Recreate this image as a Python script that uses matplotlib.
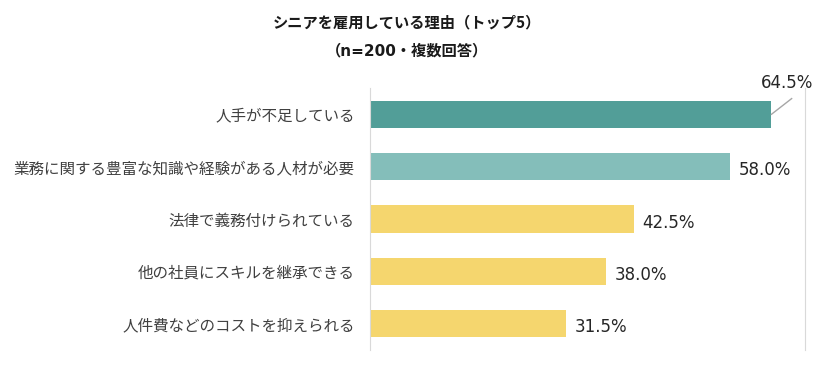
import matplotlib.pyplot as plt

plt.rcParams['font.family'] = ['Noto Sans CJK JP', 'DejaVu Sans']

reasons = ['人手が不足している',
           '業務に関する豊富な知識や経験がある人材が必要',
           '法律で義務付けられている',
           '他の社員にスキルを継承できる',
           '人件費などのコストを抑えられる']
pct = [64.5, 58.0, 42.5, 38.0, 31.5]
colors = ['#529E98', '#84BEBA', '#F5D66E', '#F5D66E', '#F5D66E']

fig = plt.figure(figsize=(8.33, 3.75), dpi=100)
ax = fig.add_axes([0.444, 0.067, 0.522, 0.698])

ypos = list(range(len(reasons)))
ax.barh(ypos, pct, height=0.52, color=colors)
ax.set_xlim(0, 70)
ax.set_ylim(len(reasons) - 0.5, -0.5)
ax.set_yticks(ypos)
ax.set_yticklabels(reasons, fontsize=11.2, color='#404040')
ax.tick_params(axis='y', length=0, pad=11)
ax.set_xticks([])

for s in ['top', 'bottom']:
    ax.spines[s].set_visible(False)
ax.spines['left'].set_color('#D9D9D9')
ax.spines['right'].set_color('#D9D9D9')

num_font = ['DejaVu Sans', 'Noto Sans CJK JP']
for i, v in enumerate(pct):
    txt = f'{v:.1f}%'
    if i == 0:
        # first label sits above the bar, with a leader line
        ax.plot([v + 0.15, v + 3.4], [i, i - 0.3], color='#A6A6A6', lw=1,
                clip_on=False)
        ax.text(v + 2.7, i - 0.6, txt, fontsize=12, color='#262626',
                ha='center', va='center', family=num_font)
    else:
        ax.text(v + 1.4, i + 0.07, txt, fontsize=12, color='#262626',
                va='center', ha='left', family=num_font)

fig.text(0.489, 0.94, 'シニアを雇用している理由（トップ5）', ha='center', va='center',
         fontsize=11, fontweight='bold', color='#1a1a1a')
fig.text(0.489, 0.865, '（n=200・複数回答）', ha='center', va='center',
         fontsize=11, fontweight='bold', color='#1a1a1a',
         family=['DejaVu Sans', 'Noto Sans CJK JP'])

fig.savefig('out.png', dpi=100)
